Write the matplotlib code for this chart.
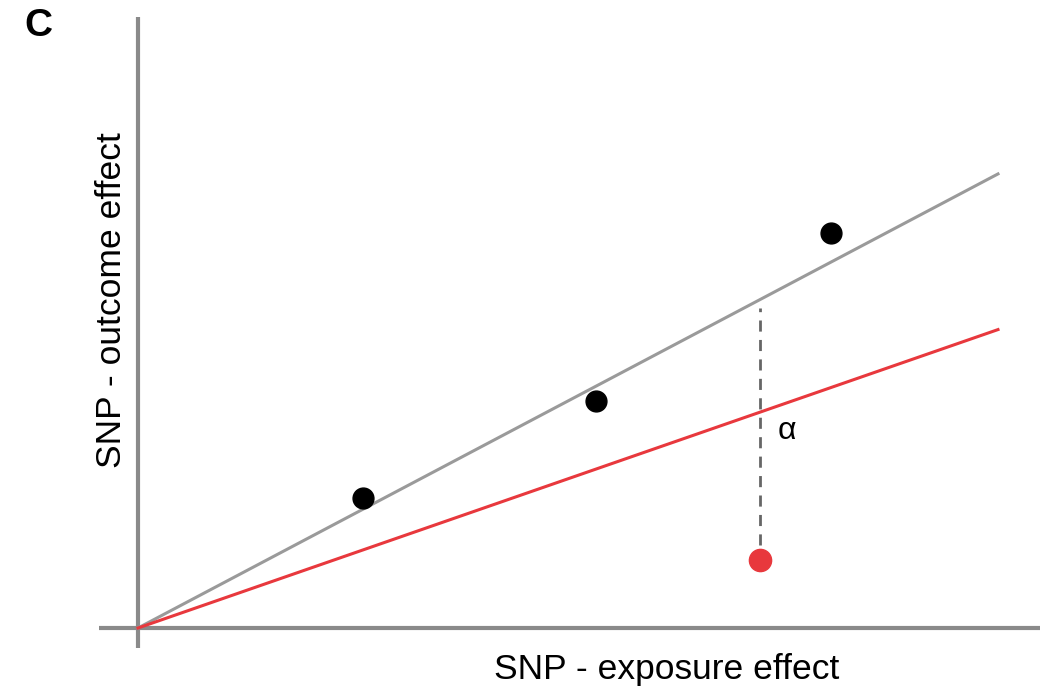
import numpy as np
import matplotlib.pyplot as plt

plt.rcParams['font.family'] = ['Liberation Sans', 'DejaVu Sans']

# slopes of the two lines (outcome per exposure)
ivw_slope = 0.528
true_slope = 0.347
x_end = 860

# SNP points (exposure, outcome)
snp_x = [225, 458, 693]
snp_y = [130, 227, 395]
outlier_x = [622]
outlier_y = [68]

fig = plt.figure(figsize=(10.45, 6.88), dpi=100)
ax = fig.add_axes([0, 0, 1, 1])
ax.set_xlim(-138, 907)
ax.set_ylim(-60, 628)
ax.axis('off')

# axes drawn as crossing lines
ax.plot([-39, 902], [0, 0], color='#8a8a8a', lw=3, solid_capstyle='butt', zorder=1)
ax.plot([0, 0], [-20, 611], color='#8a8a8a', lw=3, solid_capstyle='butt', zorder=1)

xs = np.array([0, x_end])
ax.plot(xs, ivw_slope * xs, color='#9a9a9a', lw=2.2, zorder=2)
ax.plot(xs, true_slope * xs, color='#e8383d', lw=2.2, zorder=2)

# dashed pleiotropy gap
ax.plot([outlier_x[0], outlier_x[0]], [outlier_y[0] + 15, ivw_slope * outlier_x[0] - 8],
        color='#666666', lw=2, ls=(0, (4, 3)), zorder=2)

ax.plot(snp_x, snp_y, 'o', color='black', ms=15, zorder=3)
ax.plot(outlier_x, outlier_y, 'o', color='#e8383d', ms=16, zorder=3)

ax.text(outlier_x[0] + 18, 197, 'α', fontsize=23, ha='left', va='center')
ax.text(529, -42, 'SNP - exposure effect', fontsize=25.5, ha='center', va='center')
ax.text(-26, 328, 'SNP - outcome effect', fontsize=25.5, ha='center', va='center', rotation=90)
fig.text(38 / 1045, 1 - 26 / 688, 'C', fontsize=28, fontweight='bold', ha='center', va='center')

fig.savefig('out.png', dpi=100)
